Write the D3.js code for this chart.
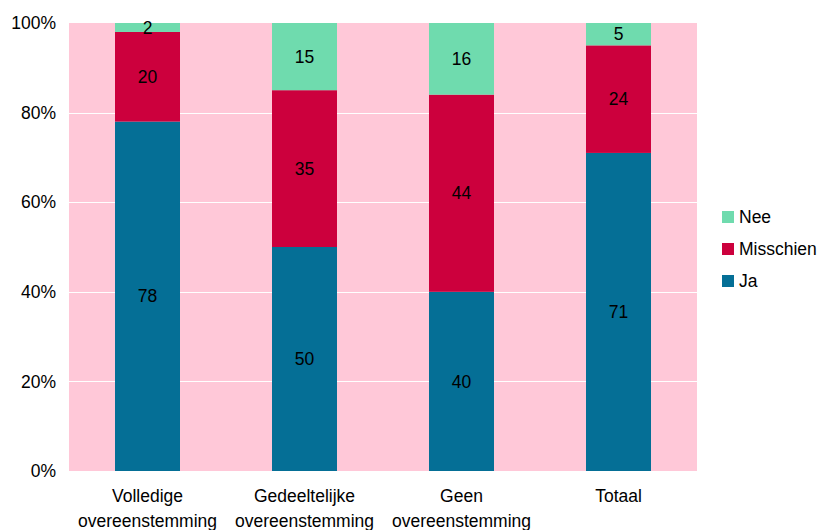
<!DOCTYPE html>
<html>
<head>
<meta charset="utf-8">
<script src="https://cdn.jsdelivr.net/npm/d3@7"></script>
<style>
  body { margin: 0; background: #fff; }
  text { font-family: "Liberation Sans", Arial, sans-serif; font-size: 17.5px; fill: #000; }
</style>
</head>
<body>
<svg id="chart" width="819" height="530"></svg>
<script>
// categories (two-line labels) and series values, in percent
var categories = ["Volledige overeenstemming", "Gedeeltelijke overeenstemming", "Geen overeenstemming", "Totaal"];
var catLines = [["Volledige", "overeenstemming"], ["Gedeeltelijke", "overeenstemming"], ["Geen", "overeenstemming"], ["Totaal"]];
var ja = [78, 50, 40, 71];
var misschien = [20, 35, 44, 24];
var nee = [2, 15, 16, 5];
var seriesNames = ["Ja", "Misschien", "Nee"];
var seriesColors = ["#056f96", "#cc003d", "#6fdbae"];
var yTicks = [0, 20, 40, 60, 80, 100];

var svg = d3.select("#chart");
var margin = {top: 23, left: 69, right: 122, bottom: 59};
var width = 819 - margin.left - margin.right;
var height = 530 - margin.top - margin.bottom;

var rows = categories.map(function(c, i) {
    return {cat: c, Ja: ja[i], Misschien: misschien[i], Nee: nee[i]};
});
var stacked = d3.stack().keys(seriesNames)(rows);

var x = d3.scaleBand().domain(categories).range([0, width]).paddingInner(0.586).paddingOuter(0.293);
var y = d3.scaleLinear().domain([0, 100]).range([height, 0]);

var g = svg.append("g").attr("transform", "translate(" + margin.left + "," + margin.top + ")");

g.append("rect")
    .attr("width", width)
    .attr("height", height)
    .attr("fill", "#ffc8d8");

g.selectAll(".grid")
    .data(yTicks.slice(1, -1))
    .enter().append("line")
    .attr("x1", 0).attr("x2", width)
    .attr("y1", function(d) { return Math.round(y(d)) + 0.5; })
    .attr("y2", function(d) { return Math.round(y(d)) + 0.5; })
    .attr("stroke", "#fff")
    .attr("stroke-width", 1);

var layer = g.selectAll(".layer")
    .data(stacked)
    .enter().append("g")
    .attr("fill", function(d, i) { return seriesColors[i]; });

layer.selectAll("rect")
    .data(function(d) { return d; })
    .enter().append("rect")
    .attr("x", function(d) { return x(d.data.cat); })
    .attr("width", x.bandwidth())
    .attr("y", function(d) { return y(d[1]); })
    .attr("height", function(d) { return y(d[0]) - y(d[1]); });

layer.selectAll("text")
    .data(function(d) { return d; })
    .enter().append("text")
    .attr("x", function(d) { return x(d.data.cat) + x.bandwidth() / 2; })
    .attr("y", function(d) { return (y(d[0]) + y(d[1])) / 2; })
    .attr("dy", "0.35em")
    .attr("text-anchor", "middle")
    .text(function(d) { return d[1] - d[0]; });

// y axis
var yAxis = g.append("g")
    .call(d3.axisLeft(y).tickValues(yTicks).tickFormat(function(d) { return d + "%"; }).tickSize(0).tickPadding(13));
yAxis.select(".domain").remove();
yAxis.selectAll("text").style("font-size", "17.5px").style("font-family", "Liberation Sans, Arial, sans-serif");

// x axis with wrapped labels
var xAxis = g.append("g")
    .attr("transform", "translate(0," + height + ")")
    .call(d3.axisBottom(x).tickSize(0).tickFormat(""));
xAxis.select(".domain").remove();
xAxis.selectAll(".tick").each(function(d, i) {
    var t = d3.select(this).append("text")
        .attr("text-anchor", "middle")
        .attr("y", 31);
    catLines[i].forEach(function(line, j) {
        t.append("tspan").attr("x", 0).attr("dy", j === 0 ? 0 : 25).text(line);
    });
});

// legend
var legendOrder = ["Nee", "Misschien", "Ja"];
var legend = svg.append("g").attr("transform", "translate(722,211)");
var item = legend.selectAll(".item")
    .data(legendOrder)
    .enter().append("g")
    .attr("transform", function(d, i) { return "translate(0," + i * 32 + ")"; });
item.append("rect")
    .attr("width", 12).attr("height", 12)
    .attr("fill", function(d) { return seriesColors[seriesNames.indexOf(d)]; });
item.append("text")
    .attr("x", 17).attr("y", 6).attr("dy", "0.35em")
    .text(function(d) { return d; });
</script>
</body>
</html>
